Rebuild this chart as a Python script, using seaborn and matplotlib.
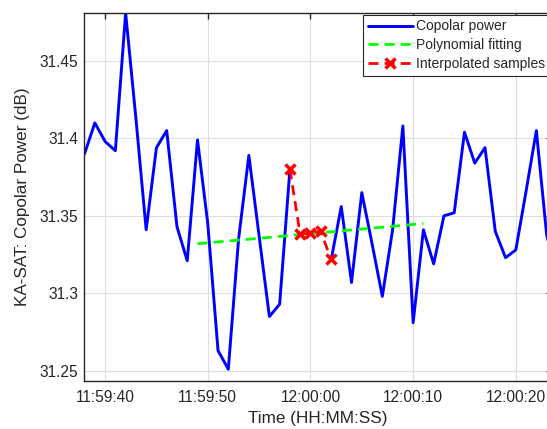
import numpy as np
import pandas as pd
import matplotlib
matplotlib.use('Agg')
import matplotlib.pyplot as plt
import matplotlib.dates as mdates
from matplotlib.ticker import FuncFormatter
import seaborn as sns

# Datos (segundos respecto a 12:00:00)
seconds = [-22, -21, -20, -19, -18, -17, -16, -15, -14, -13, -12, -11, -10, -9, -8,
           -7, -6, -5, -4, -3, -2, -1, 0, 1, 2, 3, 4, 5, 6, 7, 8, 9, 10, 11, 12,
           13, 14, 15, 16, 17, 18, 19, 20, 21, 22, 23, 24]
copolar = [31.390, 31.410, 31.398, 31.392, 31.481, 31.413, 31.341, 31.394, 31.405,
           31.343, 31.321, 31.399, 31.345, 31.263, 31.251, 31.335, 31.389, 31.337,
           31.285, 31.293, 31.380, np.nan, np.nan, np.nan, 31.321, 31.356, 31.307,
           31.365, 31.332, 31.298, 31.341, 31.408, 31.281, 31.341, 31.319, 31.350,
           31.352, 31.404, 31.384, 31.394, 31.340, 31.323, 31.328, 31.366, 31.405,
           31.338, 31.310]
interp_seconds = [-2, -1, 0, 1, 2]
interp_power = [31.380, 31.338, 31.339, 31.340, 31.322]
fit_seconds = [-11, -5, 0, 5, 11]
fit_power = [31.332, 31.3355, 31.3385, 31.3415, 31.345]

t0 = pd.Timestamp('2020-01-01 12:00:00')


def to_time(s):
    return t0 + pd.to_timedelta(np.asarray(s, dtype=float), unit='s')


df = pd.DataFrame({'time': to_time(seconds), 'power': copolar})
df['seg'] = df['power'].isna().cumsum()
df = df.dropna()
df_fit = pd.DataFrame({'time': to_time(fit_seconds), 'power': fit_power})
df_int = pd.DataFrame({'time': to_time(interp_seconds), 'power': interp_power})

sns.set_style('white')
plt.rcParams['font.family'] = ['Liberation Sans', 'DejaVu Sans']

fig = plt.figure(figsize=(5.47, 4.29), dpi=100)
ax = fig.add_axes([0.1527, 0.113, 0.856, 0.857])

first = True
for seg, d in df.groupby('seg'):
    sns.lineplot(data=d, x='time', y='power', ax=ax, color=(0, 0, 1), lw=2.1,
                 label='Copolar power' if first else None, legend=False)
    first = False
sns.lineplot(data=df_fit, x='time', y='power', ax=ax, color=(0, 1, 0), lw=2,
             dashes=False, label='Polynomial fitting', legend=False)
sns.lineplot(data=df_int, x='time', y='power', ax=ax, color=(1, 0, 0), lw=2,
             marker='x', markersize=7, markeredgewidth=2.5, mec=(1, 0, 0),
             label='Interpolated samples', legend=False)

lines = ax.get_lines()
lines[-2].set_dashes((3.6, 2.2))
lines[-1].set_dashes((3.6, 2.2))

ax.set_xlim(to_time(-22.1), to_time(23.5))
ax.set_ylim(31.2437, 31.481)
ax.set_yticks([31.25, 31.3, 31.35, 31.4, 31.45])
ax.yaxis.set_major_formatter(FuncFormatter(lambda v, p: f'{v:g}'))
ax.xaxis.set_major_locator(mdates.SecondLocator(bysecond=[0, 10, 20, 30, 40, 50]))
ax.xaxis.set_major_formatter(mdates.DateFormatter('%H:%M:%S'))

ax.grid(True, color='#dedede', lw=0.8)
ax.set_axisbelow(True)
for s in ax.spines.values():
    s.set_color('#262626')
    s.set_linewidth(1.0)
ax.tick_params(direction='in', length=4, width=1.0, color='#262626',
               top=True, right=True, labelsize=11.2, labelcolor='#262626')
ax.tick_params(axis='x', pad=7)
ax.tick_params(axis='y', pad=4)

ax.set_xlabel('Time (HH:MM:SS)', fontsize=12.3, color='#262626', labelpad=4)
ax.set_ylabel('KA-SAT: Copolar Power (dB)', fontsize=12.3, color='#262626', labelpad=7)

handles = [lines[0], lines[-2], lines[-1]]
leg = ax.legend(handles, ['Copolar power', 'Polynomial fitting', 'Interpolated samples'],
                loc='upper right', fontsize=10, fancybox=False, framealpha=1,
                edgecolor='#262626', borderaxespad=0.12, borderpad=0.35,
                labelspacing=0.35, handlelength=3.2, handletextpad=0.25)
leg.get_frame().set_linewidth(0.8)

fig.savefig('out.png', dpi=100)
